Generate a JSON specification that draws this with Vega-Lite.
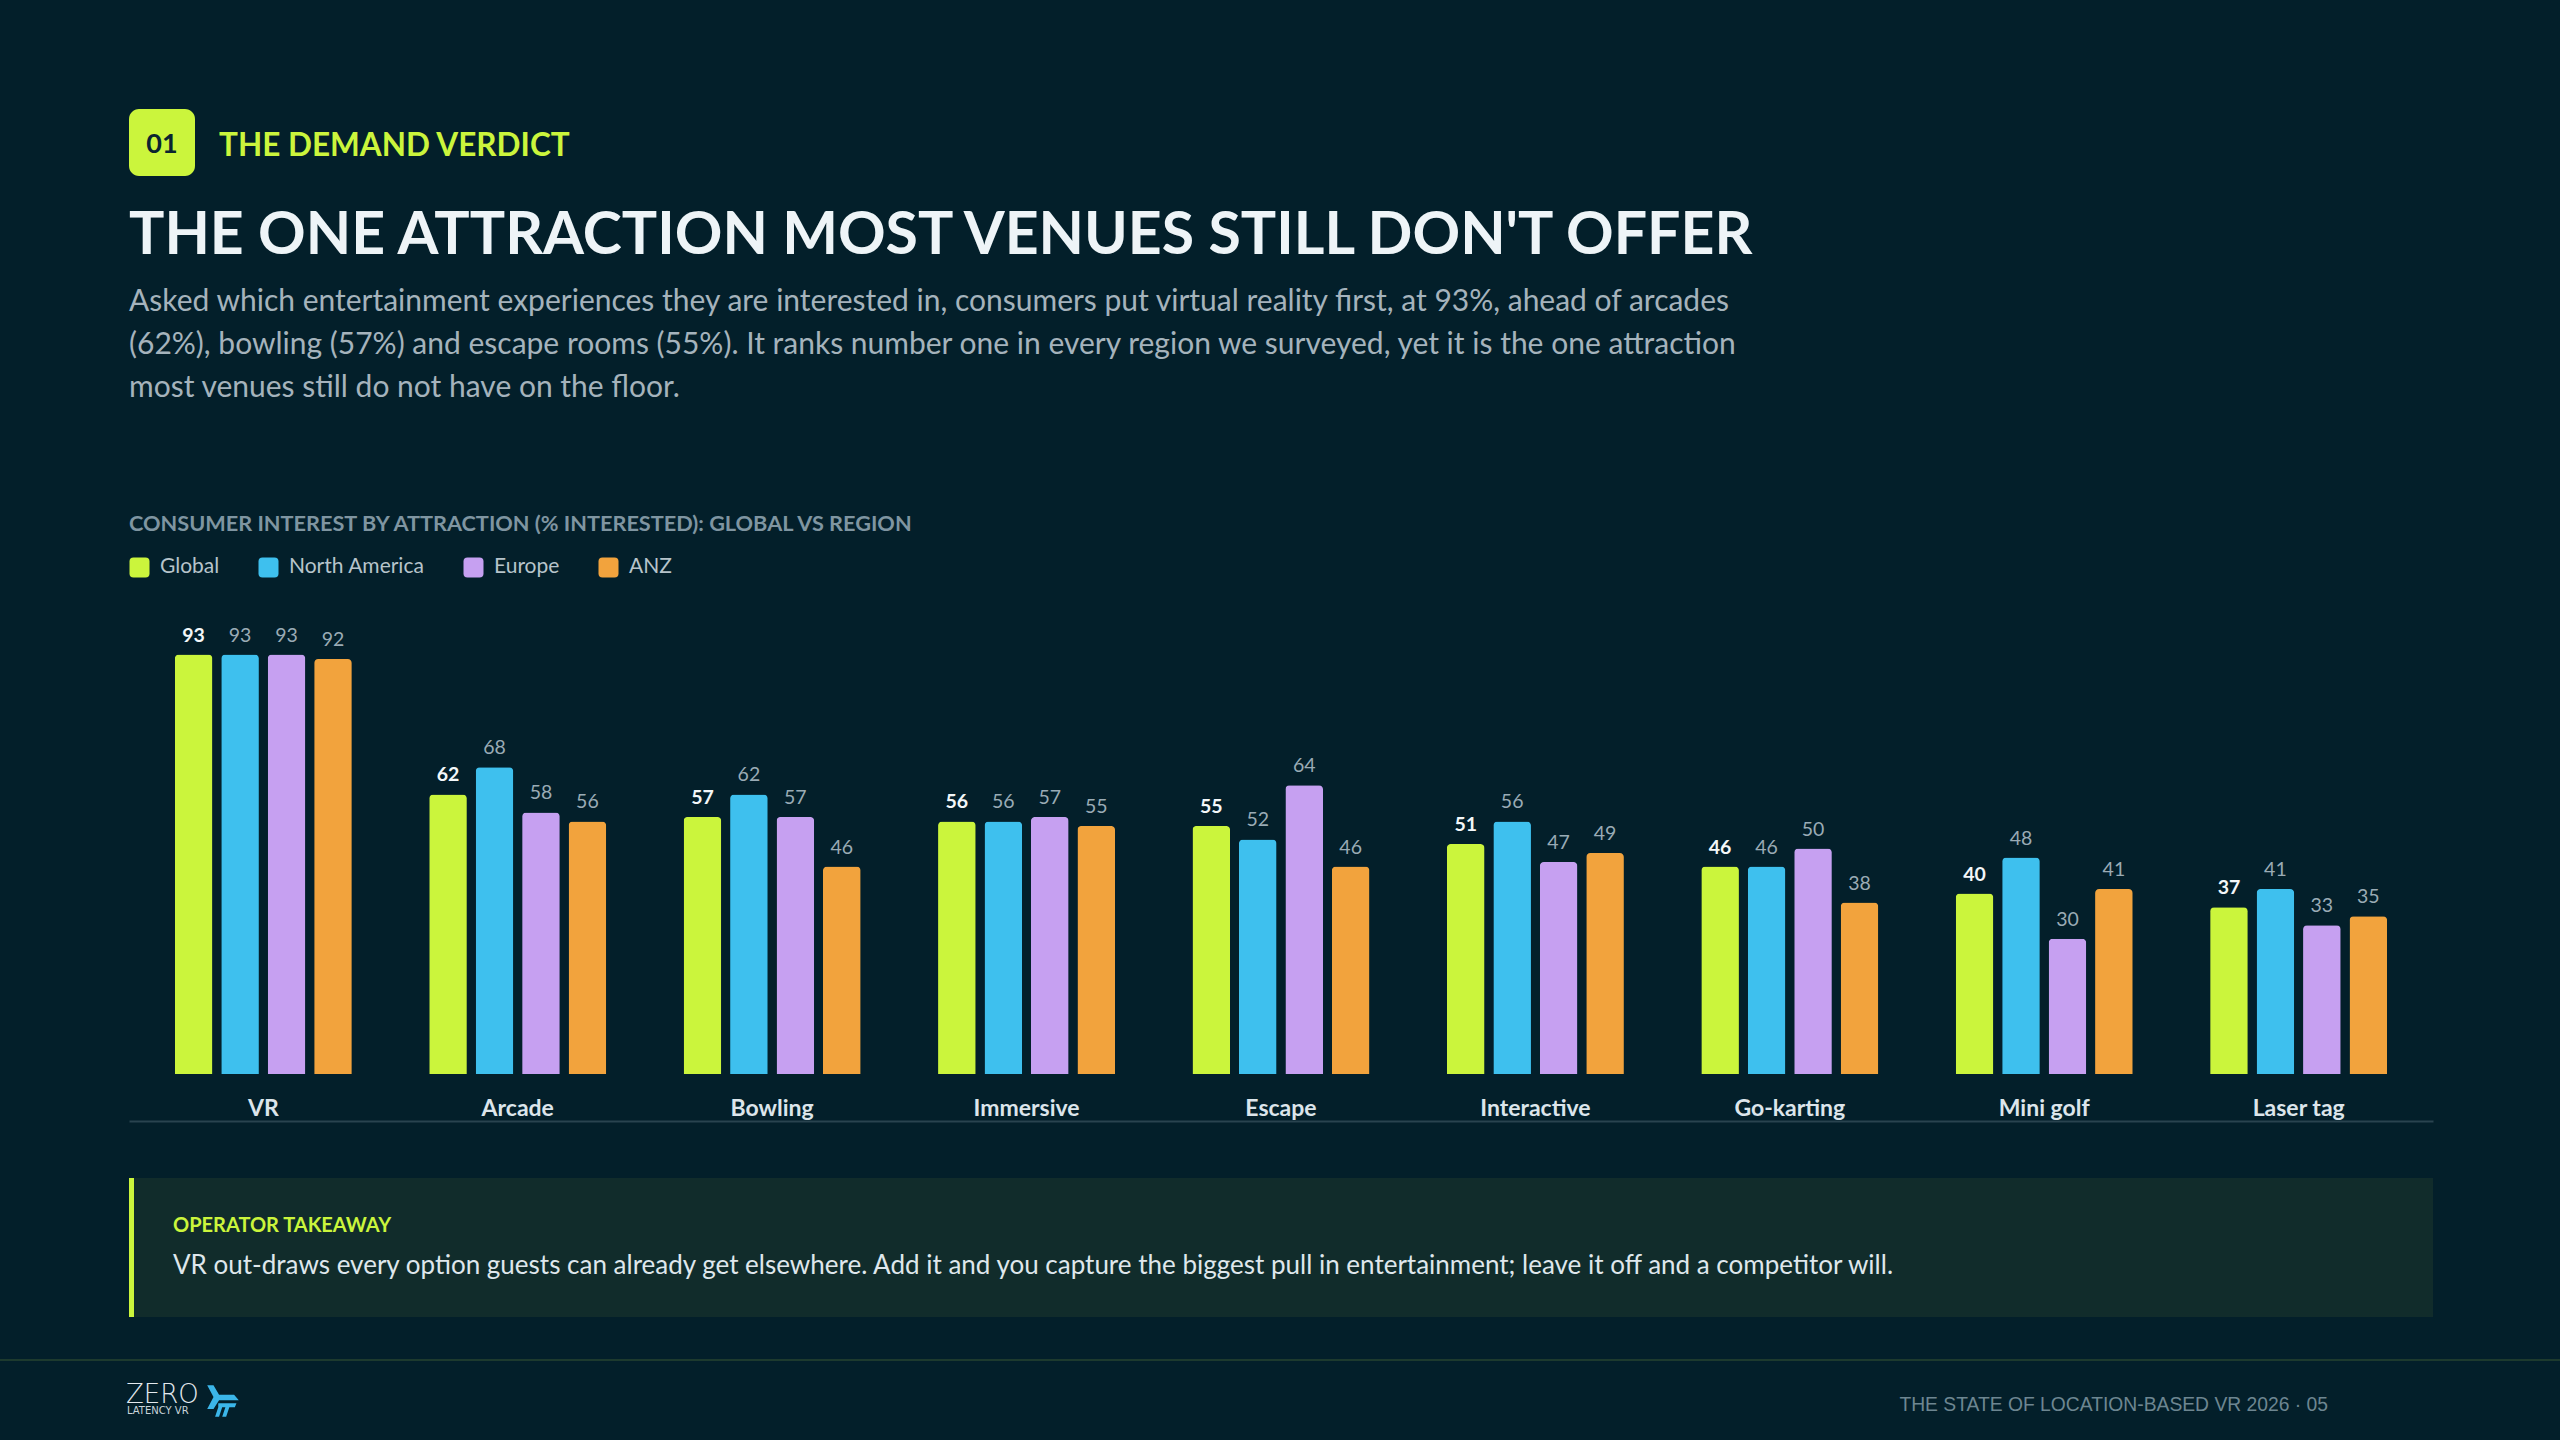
{
  "$schema": "https://vega.github.io/schema/vega-lite/v6.json",
  "width": 2304,
  "height": 451,
  "autosize": {"type": "none"},
  "padding": {"left": 129, "top": 623, "right": 127, "bottom": 366},
  "background": "#031f2a",
  "config": {"view": {"stroke": null}, "font": "Lato"},
  "data": {
    "values": [
      {"attraction": "VR", "region": "Global", "value": 93},
      {"attraction": "VR", "region": "North America", "value": 93},
      {"attraction": "VR", "region": "Europe", "value": 93},
      {"attraction": "VR", "region": "ANZ", "value": 92},
      {"attraction": "Arcade", "region": "Global", "value": 62},
      {"attraction": "Arcade", "region": "North America", "value": 68},
      {"attraction": "Arcade", "region": "Europe", "value": 58},
      {"attraction": "Arcade", "region": "ANZ", "value": 56},
      {"attraction": "Bowling", "region": "Global", "value": 57},
      {"attraction": "Bowling", "region": "North America", "value": 62},
      {"attraction": "Bowling", "region": "Europe", "value": 57},
      {"attraction": "Bowling", "region": "ANZ", "value": 46},
      {"attraction": "Immersive", "region": "Global", "value": 56},
      {"attraction": "Immersive", "region": "North America", "value": 56},
      {"attraction": "Immersive", "region": "Europe", "value": 57},
      {"attraction": "Immersive", "region": "ANZ", "value": 55},
      {"attraction": "Escape", "region": "Global", "value": 55},
      {"attraction": "Escape", "region": "North America", "value": 52},
      {"attraction": "Escape", "region": "Europe", "value": 64},
      {"attraction": "Escape", "region": "ANZ", "value": 46},
      {"attraction": "Interactive", "region": "Global", "value": 51},
      {"attraction": "Interactive", "region": "North America", "value": 56},
      {"attraction": "Interactive", "region": "Europe", "value": 47},
      {"attraction": "Interactive", "region": "ANZ", "value": 49},
      {"attraction": "Go-karting", "region": "Global", "value": 46},
      {"attraction": "Go-karting", "region": "North America", "value": 46},
      {"attraction": "Go-karting", "region": "Europe", "value": 50},
      {"attraction": "Go-karting", "region": "ANZ", "value": 38},
      {"attraction": "Mini golf", "region": "Global", "value": 40},
      {"attraction": "Mini golf", "region": "North America", "value": 48},
      {"attraction": "Mini golf", "region": "Europe", "value": 30},
      {"attraction": "Mini golf", "region": "ANZ", "value": 41},
      {"attraction": "Laser tag", "region": "Global", "value": 37},
      {"attraction": "Laser tag", "region": "North America", "value": 41},
      {"attraction": "Laser tag", "region": "Europe", "value": 33},
      {"attraction": "Laser tag", "region": "ANZ", "value": 35}
    ]
  },
  "layer": [
    {
      "encoding": {
        "x": {
          "field": "attraction",
          "type": "nominal",
          "sort": ["VR", "Arcade", "Bowling", "Immersive", "Escape", "Interactive", "Go-karting", "Mini golf", "Laser tag"],
          "scale": {"paddingInner": 0.304, "paddingOuter": 0.18},
          "axis": {
            "title": null,
            "orient": "bottom",
            "offset": 47,
            "domainColor": "#29434f",
            "domainWidth": 2,
            "ticks": false,
            "tickSize": 0,
            "labelPadding": -24,
            "labelAngle": 0,
            "labelFont": "Lato",
            "labelFontSize": 23,
            "labelFontWeight": "bold",
            "labelColor": "#dce5eb"
          }
        },
        "xOffset": {
          "field": "region",
          "type": "nominal",
          "sort": ["Global", "North America", "Europe", "ANZ"],
          "scale": {"range": [0, 177], "paddingInner": 0.19, "paddingOuter": 0}
        },
        "y": {
          "field": "value",
          "type": "quantitative",
          "scale": {"domain": [0, 100]},
          "axis": null
        }
      },
      "layer": [
        {
          "mark": {"type": "bar", "cornerRadiusTopLeft": 4, "cornerRadiusTopRight": 4},
          "encoding": {
            "color": {
              "field": "region",
              "type": "nominal",
              "scale": {
                "domain": ["Global", "North America", "Europe", "ANZ"],
                "range": ["#cbf53c", "#3ec0ee", "#c6a0f1", "#f2a33d"]
              },
              "legend": {
                "title": "CONSUMER INTEREST BY ATTRACTION (% INTERESTED): GLOBAL VS REGION",
                "orient": "top",
                "direction": "horizontal",
                "titleOrient": "top",
                "titleAnchor": "start",
                "titleFont": "Lato",
                "titleFontSize": 21.7,
                "titleFontWeight": "bold",
                "titleColor": "#7f95a1",
                "titleLimit": 2000,
                "titlePadding": 21,
                "labelFont": "Lato",
                "labelFontSize": 21,
                "labelColor": "#b7c4cb",
                "labelOffset": 10,
                "symbolType": "M -1 -0.6 Q -1 -1 -0.6 -1 L 0.6 -1 Q 1 -1 1 -0.6 L 1 0.6 Q 1 1 0.6 1 L -0.6 1 Q -1 1 -1 0.6 Z",
                "symbolSize": 400,
                "symbolStrokeWidth": 0,
                "symbolOpacity": 1,
                "columnPadding": 38,
                "offset": 45,
                "padding": 0
              }
            }
          }
        },
        {
          "transform": [{"filter": "datum.region === 'Global'"}],
          "mark": {"type": "text", "font": "Lato", "fontSize": 19.5, "fontWeight": "bold", "color": "#f3f7f9", "baseline": "alphabetic", "dy": -13},
          "encoding": {"text": {"field": "value", "type": "quantitative"}}
        },
        {
          "transform": [{"filter": "datum.region !== 'Global'"}],
          "mark": {"type": "text", "font": "Lato", "fontSize": 19.5, "color": "#9aabb5", "baseline": "alphabetic", "dy": -13},
          "encoding": {"text": {"field": "value", "type": "quantitative"}}
        }
      ]
    },
    {
      "data": {"values": [{}]},
      "mark": {"type": "rect", "cornerRadius": 10, "color": "#cbf53c"},
      "encoding": {"x": {"value": 0}, "x2": {"value": 66}, "y": {"value": -514}, "y2": {"value": -447}}
    },
    {
      "data": {"values": [{}]},
      "mark": {"type": "text", "text": "01", "font": "Lato", "fontSize": 27, "fontWeight": "bold", "color": "#0a2430", "align": "center", "baseline": "alphabetic"},
      "encoding": {"x": {"value": 33}, "y": {"value": -470}}
    },
    {
      "data": {"values": [{}]},
      "mark": {"type": "text", "text": "THE DEMAND VERDICT", "font": "Lato", "fontSize": 31.5, "fontWeight": "bold", "color": "#cbf53c", "align": "left", "baseline": "alphabetic"},
      "encoding": {"x": {"value": 90}, "y": {"value": -467}}
    },
    {
      "data": {"values": [{}]},
      "mark": {"type": "text", "text": "THE ONE ATTRACTION MOST VENUES STILL DON'T OFFER", "font": "Lato", "fontSize": 59, "fontWeight": "bold", "color": "#eef4f7", "align": "left", "baseline": "alphabetic"},
      "encoding": {"x": {"value": 0}, "y": {"value": -369}}
    },
    {
      "data": {"values": [{}]},
      "mark": {
        "type": "text",
        "text": [
          "Asked which entertainment experiences they are interested in, consumers put virtual reality first, at 93%, ahead of arcades",
          "(62%), bowling (57%) and escape rooms (55%). It ranks number one in every region we surveyed, yet it is the one attraction",
          "most venues still do not have on the floor."
        ],
        "font": "Lato",
        "fontSize": 30,
        "lineHeight": 43,
        "color": "#a5b3bc",
        "align": "left",
        "baseline": "alphabetic"
      },
      "encoding": {"x": {"value": 0}, "y": {"value": -312}}
    },
    {
      "data": {"values": [{}]},
      "mark": {"type": "rect", "color": "#112c2b"},
      "encoding": {"x": {"value": 0}, "x2": {"value": 2304}, "y": {"value": 555}, "y2": {"value": 694}}
    },
    {
      "data": {"values": [{}]},
      "mark": {"type": "rect", "color": "#cbf53c"},
      "encoding": {"x": {"value": 0}, "x2": {"value": 5}, "y": {"value": 555}, "y2": {"value": 694}}
    },
    {
      "data": {"values": [{}]},
      "mark": {"type": "text", "text": "OPERATOR TAKEAWAY", "font": "Lato", "fontSize": 20, "fontWeight": "bold", "color": "#cbf53c", "align": "left", "baseline": "alphabetic"},
      "encoding": {"x": {"value": 44}, "y": {"value": 609}}
    },
    {
      "data": {"values": [{}]},
      "mark": {"type": "text", "text": "VR out-draws every option guests can already get elsewhere. Add it and you capture the biggest pull in entertainment; leave it off and a competitor will.", "font": "Lato", "fontSize": 26, "color": "#dfe7ec", "align": "left", "baseline": "alphabetic"},
      "encoding": {"x": {"value": 44}, "y": {"value": 651}}
    },
    {
      "data": {"values": [{}]},
      "mark": {"type": "rule", "color": "#1d3a2e", "strokeWidth": 2},
      "encoding": {"x": {"value": -129}, "x2": {"value": 2431}, "y": {"value": 737}}
    },
    {
      "data": {"values": [{}]},
      "mark": {"type": "text", "text": "THE STATE OF LOCATION-BASED VR 2026 · 05", "font": "Liberation Sans", "fontSize": 19.3, "color": "#6d8691", "align": "right", "baseline": "alphabetic"},
      "encoding": {"x": {"value": 2199}, "y": {"value": 788}}
    },
    {
      "data": {"values": [{}]},
      "mark": {"type": "text", "text": "ZERO", "font": "DejaVu Sans", "fontSize": 26, "fontWeight": 200, "color": "#e3eaef", "align": "left", "baseline": "alphabetic"},
      "encoding": {"x": {"value": -3}, "y": {"value": 780}}
    },
    {
      "data": {"values": [{}]},
      "mark": {"type": "text", "text": "LATENCY VR", "font": "DejaVu Sans", "fontSize": 10, "color": "#c9d4da", "align": "left", "baseline": "alphabetic"},
      "encoding": {"x": {"value": -2}, "y": {"value": 791}}
    },
    {
      "data": {"values": [{}]},
      "mark": {"type": "point", "filled": true, "color": "#3bb6e9", "opacity": 1, "shape": "M -1 -1 L -0.6 -1 L -0.25 -0.4 L 0.7 -0.4 L 1 -0.05 L -0.25 -0.05 L -0.6 0.5 L -1 0.5 L -0.6 -0.25 Z M -0.3 0.15 L 0.85 0.15 L 0.75 0.4 L 0.4 0.4 L 0.2 1 L -0.05 1 L 0.15 0.4 L -0.05 0.4 L -0.25 1 L -0.5 1 L -0.3 0.4 Z"},
      "encoding": {"x": {"value": 94}, "y": {"value": 778}, "size": {"value": 1000}}
    }
  ]
}
